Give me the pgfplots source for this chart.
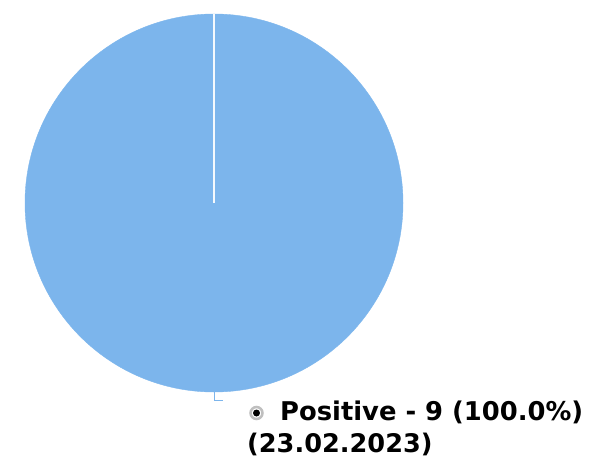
\documentclass[border=0pt]{standalone}
\usepackage{pgfplots}
\pgfplotsset{compat=1.18}
\usepackage{fontspec}
\setmainfont{DejaVu Sans}
\definecolor{pieblue}{HTML}{7CB5EC}
\pgfplotsset{piebox/.style={at={(25pt,67pt)}, anchor=south west, scale only axis,
  width=378pt, height=378pt, xmin=-1, xmax=1, ymin=-1, ymax=1,
  hide axis, clip=false}}
\begin{document}
\begin{tikzpicture}
\useasboundingbox (0pt,0pt) rectangle (596pt,459pt);
\begin{axis}[piebox]
  % single slice: Positive = 9 (100%)
  \addplot[only marks, mark=*, mark size=189pt, color=pieblue] coordinates {(0,0)};
\end{axis}
\begin{axis}[piebox]
  % slice border and connector to data label
  \addplot[white!92!pieblue, line width=2pt] coordinates {(0,0) (0,1)};
  \addplot[pieblue, line width=0.8pt] coordinates {(0,-1) (0,-1.045) (0.045,-1.045)};
\end{axis}
\draw[gray!50, line width=2.5pt] (256.5pt,46pt) circle (6pt);
\fill[black] (256.5pt,46pt) circle (3.5pt);
\node[anchor=base west, inner sep=0] at (280pt,39pt)
  {\fontsize{25.8}{30}\selectfont\bfseries Positive - 9 (100.0\%)};
\node[anchor=base west, inner sep=0] at (247pt,7pt)
  {\fontsize{25.6}{30}\selectfont\bfseries (23.02.2023)};
\end{tikzpicture}
\end{document}
